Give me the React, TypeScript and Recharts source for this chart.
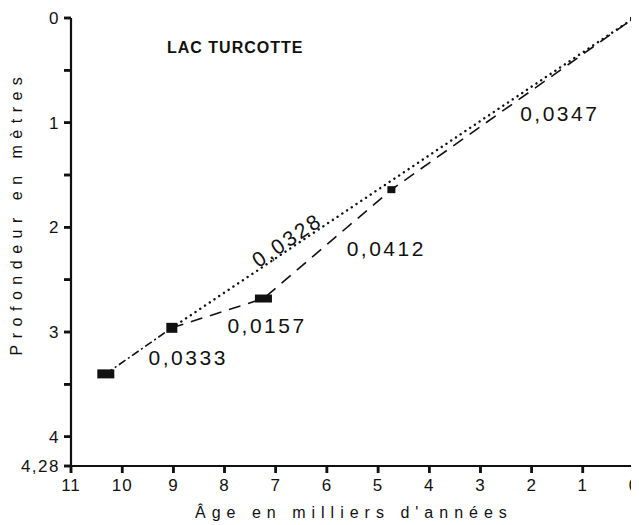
import React from 'react';
import { ComposedChart, Line, Scatter, XAxis, YAxis } from 'recharts';

// ---- data ----
const ageTicks = [0, 1, 2, 3, 4, 5, 6, 7, 8, 9, 10, 11];
const depthTicks = [0, 0.5, 1, 1.5, 2, 2.5, 3, 3.5, 4, 4.28];
const depthTickLabels = ['0', '', '1', '', '2', '', '3', '', '4', '4,28'];

const sampleAges = [10.32, 9.03, 7.24, 4.74, 0];
const sampleDepths = [3.4, 2.96, 2.68, 1.64, 0];

const rateLabels = ['0,0333', '0,0157', '0,0412', '0,0347', '0,0328'];
const rateLabelAges = [8.71, 7.17, 4.84, 1.45, 6.78];
const rateLabelDepths = [3.24, 2.94, 2.2, 0.91, 2.12];

const title = 'LAC TURCOTTE';
const xTitle = "Âge en milliers d'années";
const yTitle = 'Profondeur en mètres';

// ---- derived ----
const AGE_MAX = 11;
const DEPTH_MAX = 4.28;
const pts = sampleAges.map((x, i) => ({ x, y: sampleDepths[i], i }));
const dashDotSeg = [pts[0], pts[1]];
const dashedSeg = [pts[1], pts[2], pts[3], pts[4]];
const dottedSeg = [pts[1], pts[4]];
const labelPts = rateLabels.map((t, i) => ({ x: rateLabelAges[i], y: rateLabelDepths[i], t, i }));
const yAxisPts = [{ x: AGE_MAX, y: 0 }, { x: AGE_MAX, y: DEPTH_MAX }];
const xAxisPts = [{ x: AGE_MAX, y: DEPTH_MAX }, { x: 0, y: DEPTH_MAX }];

// ---- styles ----
const FONT = '"Liberation Sans", Arial, Helvetica, sans-serif';
const INK = '#111111';
const markerSizes: Array<[number, number] | null> = [[17, 9], [11, 10], [17, 8], [8, 7], null];
const labelAngles = [0, 0, 0, 0, -34];
const TICK = 7;
const TMARGIN = 2;

const W = 631;
const H = 517;

const MarkerShape = (props: any) => {
  const { cx, cy, payload } = props;
  const s = markerSizes[payload.i];
  if (!s) {
    return (
      <g stroke={INK} strokeWidth={2}>
        <line x1={cx - 4} y1={cy} x2={cx + 4} y2={cy} />
        <line x1={cx} y1={cy - 4} x2={cx} y2={cy + 4} />
      </g>
    );
  }
  return <rect x={cx - s[0] / 2} y={cy - s[1] / 2} width={s[0]} height={s[1]} fill={INK} />;
};

const LabelShape = (props: any) => {
  const { cx, cy, payload } = props;
  const a = labelAngles[payload.i];
  return (
    <text
      x={cx}
      y={cy}
      textAnchor="middle"
      dominantBaseline="central"
      fontFamily={FONT}
      fontSize={21}
      letterSpacing={2.5}
      fill={INK}
      transform={a ? `rotate(${a}, ${cx}, ${cy})` : undefined}
    >
      {payload.t}
    </text>
  );
};

const XTick = (props: any) => {
  const { x, y, payload } = props;
  return (
    <g>
      <path d={`M${x},${y - TMARGIN - TICK}V${y - TMARGIN}`} stroke={INK} strokeWidth={2.5} fill="none" />
      <text x={x} y={y} dy={16} textAnchor="middle" fontFamily={FONT} fontSize={17} letterSpacing={1} fill={INK}>
        {String(payload.value)}
      </text>
    </g>
  );
};

const YTick = (props: any) => {
  const { x, y, payload, index } = props;
  const idx = depthTicks.indexOf(payload.value);
  const lab = depthTickLabels[idx >= 0 ? idx : index] || '';
  return (
    <g>
      <path d={`M${x + TMARGIN},${y}H${x + TMARGIN + TICK}`} stroke={INK} strokeWidth={2.5} fill="none" />
      {lab ? (
        <text x={x - 2} y={y} dy="0.36em" textAnchor="end" fontFamily={FONT} fontSize={17} letterSpacing={1.5} fill={INK}>
          {lab}
        </text>
      ) : null}
    </g>
  );
};

export default function App() {
  return (
    <div style={{ position: 'relative', width: W, height: H, background: '#fff' }}>
      <ComposedChart width={W} height={H} margin={{ top: 10, right: 5, left: 0, bottom: 0 }}>
        <XAxis
          type="number"
          dataKey="x"
          domain={[0, AGE_MAX]}
          ticks={ageTicks}
          reversed
          height={59}
          axisLine={{ stroke: INK, strokeWidth: 2.2 }}
          tickLine={{ stroke: INK, strokeWidth: 2.5 }}
          tickSize={TICK}
          tickMargin={TMARGIN}
          tick={<XTick />}
          interval={0}
        />
        <YAxis
          type="number"
          dataKey="y"
          domain={[0, DEPTH_MAX]}
          ticks={depthTicks}
          reversed
          width={63}
          axisLine={{ stroke: INK, strokeWidth: 2.2 }}
          tickLine={{ stroke: INK, strokeWidth: 2.5 }}
          tickSize={TICK}
          tickMargin={TMARGIN}
          tick={<YTick />}
          interval={0}
        />
        <Line data={yAxisPts} dataKey="y" stroke={INK} strokeWidth={2} dot={false} activeDot={false} isAnimationActive={false} />
        <Line data={xAxisPts} dataKey="y" stroke={INK} strokeWidth={2} dot={false} activeDot={false} isAnimationActive={false} />
        <Line
          data={dottedSeg}
          dataKey="y"
          stroke={INK}
          strokeWidth={2.4}
          strokeDasharray="0.1 5.6"
          strokeLinecap="round"
          dot={false}
          activeDot={false}
          isAnimationActive={false}
        />
        <Line
          data={dashedSeg}
          dataKey="y"
          stroke={INK}
          strokeWidth={1.6}
          strokeDasharray="12 8"
          dot={false}
          activeDot={false}
          isAnimationActive={false}
        />
        <Line
          data={dashDotSeg}
          dataKey="y"
          stroke={INK}
          strokeWidth={1.6}
          strokeDasharray="8 3 2 3"
          dot={false}
          activeDot={false}
          isAnimationActive={false}
        />
        <Scatter data={pts} dataKey="y" shape={<MarkerShape />} isAnimationActive={false} />
        <Scatter data={labelPts} dataKey="y" shape={<LabelShape />} isAnimationActive={false} />
      </ComposedChart>
      <svg
        width={W}
        height={H}
        style={{ position: 'absolute', left: 0, top: 0, pointerEvents: 'none' }}
      >
        <text x={159} y={45} fontFamily={FONT} fontSize={16} fontWeight={700} letterSpacing={1} fill={INK}>
          {title}
        </text>
        <text
          x={14}
          y={205}
          textAnchor="middle"
          fontFamily={FONT}
          fontSize={16}
          letterSpacing={6.5}
          fill={INK}
          transform="rotate(-90, 14, 205)"
        >
          {yTitle}
        </text>
        <text x={187} y={510} fontFamily={FONT} fontSize={16} letterSpacing={6} fill={INK}>
          {xTitle}
        </text>
      </svg>
    </div>
  );
}
